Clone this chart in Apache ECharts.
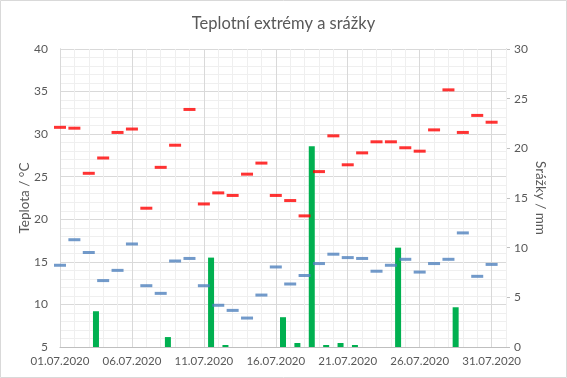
<!DOCTYPE html>
<html>
<head>
<meta charset="utf-8">
<script src="https://cdn.jsdelivr.net/npm/echarts@6/dist/echarts.min.js"></script>
<style>
	html, body { margin: 0; padding: 0; background: #fff; }
	#chart { width: 567px; height: 378px; }
</style>
</head>
<body>
<div id="chart"></div>
<script>
// dny v cervenci 2020
const days = [
	'01.07.2020', '02.07.2020', '03.07.2020', '04.07.2020', '05.07.2020', '06.07.2020',
	'07.07.2020', '08.07.2020', '09.07.2020', '10.07.2020', '11.07.2020', '12.07.2020',
	'13.07.2020', '14.07.2020', '15.07.2020', '16.07.2020', '17.07.2020', '18.07.2020',
	'19.07.2020', '20.07.2020', '21.07.2020', '22.07.2020', '23.07.2020', '24.07.2020',
	'25.07.2020', '26.07.2020', '27.07.2020', '28.07.2020', '29.07.2020', '30.07.2020',
	'31.07.2020'
];
const axisEnd = '01.08.2020';

// maximalni teploty
const tMax = [30.8, 30.7, 25.4, 27.2, 30.2, 30.6, 21.3, 26.1, 28.7, 32.9, 21.8, 23.1,
	22.8, 25.3, 26.6, 22.8, 22.2, 20.4, 25.6, 29.8, 26.4, 27.8, 29.1, 29.1,
	28.4, 28.0, 30.5, 35.2, 30.2, 32.2, 31.4];

// minimalni teploty
const tMin = [14.6, 17.6, 16.1, 12.8, 14.0, 17.1, 12.2, 11.3, 15.1, 15.4, 12.2, 9.9,
	9.3, 8.4, 11.1, 14.4, 12.4, 13.4, 14.8, 15.9, 15.5, 15.4, 13.9, 14.6,
	15.3, 13.8, 14.8, 15.3, 18.4, 13.3, 14.7];

// srazky v mm
const rain = [0, 0, 3.6, 0, 0, 0, 0, 1.0, 0, 0, 9.0, 0.2,
	0, 0, 0, 3.0, 0.4, 20.2, 0.2, 0.4, 0.2, 0, 0, 10.0,
	0, 0, 0, 4.0, 0, 0, 0];

const tempTicks = { min: 5, max: 40, step: 5 };
const rainTicks = { min: 0, max: 30, step: 5 };

const textColor = '#595959';
const fontName = 'Lato, "Open Sans", sans-serif';

let myChart = echarts.init(document.getElementById('chart'), null, { renderer: 'canvas' });
let pointAxisData = days.concat([axisEnd]);

let majorIdx = function(idx) { return idx % 5 === 0; };

let option = {
	animation: false,
	backgroundColor: '#ffffff',
	textStyle: { fontFamily: fontName },
	title: {
		text: 'Teplotní extrémy a srážky',
		left: 'center',
		top: 10,
		textStyle: {
			fontFamily: fontName,
			fontSize: 16.5,
			fontWeight: 'normal',
			color: textColor
		}
	},
	graphic: [{
		type: 'rect',
		shape: { x: 0.5, y: 0.5, width: 566, height: 377 },
		style: { fill: 'none', stroke: '#d9d9d9', lineWidth: 1 },
		silent: true
	}],
	grid: {
		left: 60,
		right: 61,
		top: 49,
		bottom: 31,
		containLabel: false
	},
	xAxis: [
		{
			type: 'category',
			data: pointAxisData,
			boundaryGap: false,
			axisLine: { show: true, lineStyle: { color: '#bfbfbf', width: 1 } },
			axisTick: { show: false },
			axisLabel: {
				interval: function(idx) { return idx % 5 === 0 && idx < days.length; },
				color: textColor,
				fontSize: 11.5,
				fontFamily: fontName,
				margin: 8
			},
			splitLine: {
				show: true,
				interval: function(idx) { return majorIdx(idx); },
				lineStyle: { color: '#d9d9d9', width: 1 }
			},
			z: 3
		},
		{
			type: 'category',
			data: pointAxisData,
			boundaryGap: false,
			position: 'bottom',
			axisLine: { show: false },
			axisTick: { show: false },
			axisLabel: { show: false },
			splitLine: {
				show: true,
				interval: function(idx) { return !majorIdx(idx); },
				lineStyle: { color: '#efefef', width: 1 }
			},
			z: 1
		},
		{
			type: 'category',
			data: days,
			boundaryGap: true,
			position: 'bottom',
			axisLine: { show: false },
			axisTick: { show: false },
			axisLabel: { show: false },
			splitLine: { show: false }
		}
	],
	yAxis: [
		{
			type: 'value',
			position: 'left',
			min: tempTicks.min,
			max: tempTicks.max,
			interval: tempTicks.step,
			name: 'Teplota / °C',
			nameLocation: 'middle',
			nameGap: 28,
			nameMoveOverlap: false,
			nameTextStyle: { color: textColor, fontSize: 13.5, fontFamily: fontName },
			axisLine: { show: true, lineStyle: { color: '#bfbfbf' } },
			axisTick: { show: false },
			axisLabel: { color: textColor, fontSize: 12, fontFamily: fontName, margin: 12 },
			splitLine: { show: true, lineStyle: { color: '#d9d9d9' } },
			minorTick: { show: false, splitNumber: 5 },
			minorSplitLine: { show: true, lineStyle: { color: '#efefef' } }
		},
		{
			type: 'value',
			position: 'right',
			min: rainTicks.min,
			max: rainTicks.max,
			interval: rainTicks.step,
			name: 'Srážky / mm',
			nameLocation: 'middle',
			nameRotate: -90,
			nameGap: 27,
			nameMoveOverlap: false,
			nameTextStyle: { color: textColor, fontSize: 13.5, fontFamily: fontName },
			axisLine: { show: true, lineStyle: { color: '#bfbfbf' } },
			axisTick: { show: true, inside: false, length: 4, lineStyle: { color: '#bfbfbf' } },
			axisLabel: { color: textColor, fontSize: 12, fontFamily: fontName, margin: 8 },
			splitLine: { show: false }
		}
	],
	series: [
		{
			name: 'Srážky',
			type: 'bar',
			xAxisIndex: 2,
			yAxisIndex: 1,
			data: rain,
			barWidth: 6,
			itemStyle: { color: '#00b050' },
			z: 2
		},
		{
			name: 'Tmax',
			type: 'scatter',
			xAxisIndex: 0,
			yAxisIndex: 0,
			data: tMax,
			symbol: 'rect',
			symbolSize: [12, 3],
			itemStyle: { color: '#ff0000' },
			z: 4
		},
		{
			name: 'Tmin',
			type: 'scatter',
			xAxisIndex: 0,
			yAxisIndex: 0,
			data: tMin,
			symbol: 'rect',
			symbolSize: [12, 3],
			itemStyle: { color: '#4f81bd' },
			z: 4
		}
	]
};

option && myChart.setOption(option);
</script>
</body>
</html>
